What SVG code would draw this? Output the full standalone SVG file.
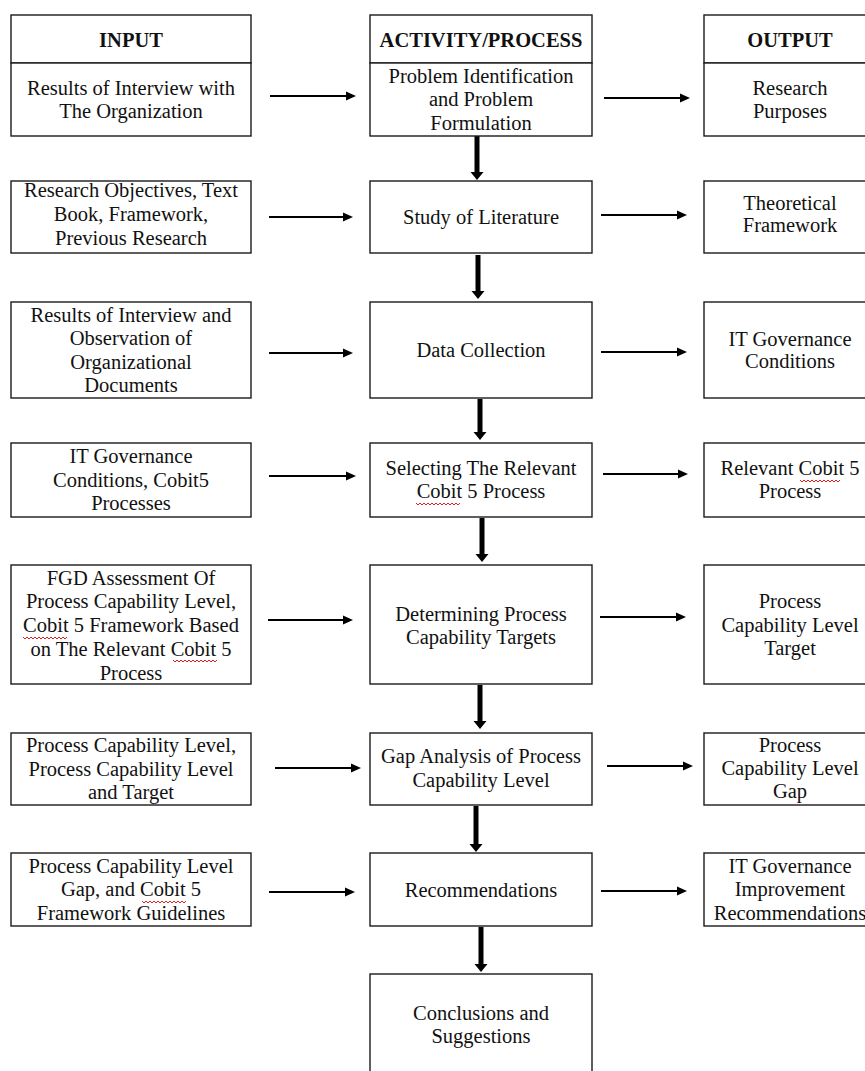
<svg xmlns="http://www.w3.org/2000/svg" width="865" height="1071" viewBox="0 0 865 1071">
<style>
  .box{fill:#fff;stroke:#1a1a1a;stroke-width:1.4}
  .t{font-family:"Liberation Serif","Times New Roman",serif;font-size:20.5px;fill:#111;text-anchor:middle}
  .h{font-weight:bold}
  .ha{stroke:#000;stroke-width:2.2;fill:none}
  .va{stroke:#000;stroke-width:5;fill:none}
  .sq{stroke:#e02020;stroke-width:1;fill:none}
</style>
<defs>
  <marker id="ah" markerUnits="userSpaceOnUse" markerWidth="11" markerHeight="10" refX="0" refY="5" orient="auto">
    <path d="M0,0.5 L10,5 L0,9.5 z" fill="#000"/>
  </marker>
  <marker id="av" markerUnits="userSpaceOnUse" markerWidth="9" markerHeight="14" refX="0" refY="7" orient="auto">
    <path d="M0,0.5 L8,7 L0,13.5 z" fill="#000"/>
  </marker>
</defs>
<rect width="865" height="1071" fill="#fff"/>

<g id="connectors">
  <line class="ha" x1="270" y1="96" x2="346" y2="96" marker-end="url(#ah)"/>
  <line class="ha" x1="604" y1="98" x2="680" y2="98" marker-end="url(#ah)"/>
  <line class="ha" x1="269" y1="217" x2="343" y2="217" marker-end="url(#ah)"/>
  <line class="ha" x1="601" y1="215" x2="677" y2="215" marker-end="url(#ah)"/>
  <line class="ha" x1="269" y1="353" x2="343" y2="353" marker-end="url(#ah)"/>
  <line class="ha" x1="601" y1="352" x2="677" y2="352" marker-end="url(#ah)"/>
  <line class="ha" x1="269" y1="476" x2="346" y2="476" marker-end="url(#ah)"/>
  <line class="ha" x1="603" y1="474" x2="678" y2="474" marker-end="url(#ah)"/>
  <line class="ha" x1="268" y1="620" x2="343" y2="620" marker-end="url(#ah)"/>
  <line class="ha" x1="600" y1="617" x2="676" y2="617" marker-end="url(#ah)"/>
  <line class="ha" x1="275" y1="768" x2="351" y2="768" marker-end="url(#ah)"/>
  <line class="ha" x1="607" y1="766" x2="683" y2="766" marker-end="url(#ah)"/>
  <line class="ha" x1="269" y1="892" x2="345" y2="892" marker-end="url(#ah)"/>
  <line class="ha" x1="601" y1="891" x2="677" y2="891" marker-end="url(#ah)"/>

  <line class="va" x1="477" y1="136" x2="477" y2="172" marker-end="url(#av)"/>
  <line class="va" x1="478" y1="255" x2="478" y2="291" marker-end="url(#av)"/>
  <line class="va" x1="480" y1="399" x2="480" y2="432" marker-end="url(#av)"/>
  <line class="va" x1="482" y1="518" x2="482" y2="554" marker-end="url(#av)"/>
  <line class="va" x1="480" y1="685" x2="480" y2="721" marker-end="url(#av)"/>
  <line class="va" x1="476" y1="806" x2="476" y2="844" marker-end="url(#av)"/>
  <line class="va" x1="481" y1="927" x2="481" y2="964" marker-end="url(#av)"/>
</g>

<g id="input-header">
  <rect class="box" x="11" y="15" width="240" height="48"/>
  <text class="t h" x="131" y="47">INPUT</text>
</g>
<g id="process-header">
  <rect class="box" x="370" y="15" width="222" height="48"/>
  <text class="t h" x="481" y="47">ACTIVITY/PROCESS</text>
</g>
<g id="output-header">
  <rect class="box" x="704" y="15" width="180" height="48"/>
  <text class="t h" x="790" y="47">OUTPUT</text>
</g>

<g id="in1">
  <rect class="box" x="11" y="63" width="240" height="73"/>
  <text class="t" x="131"><tspan x="131" y="95">Results of Interview with</tspan><tspan x="131" y="118">The Organization</tspan></text>
</g>
<g id="p1">
  <rect class="box" x="370" y="63" width="222" height="73"/>
  <text class="t" x="481"><tspan x="481" y="83">Problem Identification</tspan><tspan x="481" y="106">and Problem</tspan><tspan x="481" y="130">Formulation</tspan></text>
</g>
<g id="out1">
  <rect class="box" x="704" y="63" width="180" height="73"/>
  <text class="t" x="790"><tspan x="790" y="95">Research</tspan><tspan x="790" y="118">Purposes</tspan></text>
</g>

<g id="in2">
  <rect class="box" x="11" y="181" width="240" height="72"/>
  <text class="t" x="131"><tspan x="131" y="197">Research Objectives, Text</tspan><tspan x="131" y="221">Book, Framework,</tspan><tspan x="131" y="245">Previous Research</tspan></text>
</g>
<g id="p2">
  <rect class="box" x="370" y="181" width="222" height="72"/>
  <text class="t" x="481" y="224">Study of Literature</text>
</g>
<g id="out2">
  <rect class="box" x="704" y="181" width="180" height="72"/>
  <text class="t" x="790"><tspan x="790" y="210">Theoretical</tspan><tspan x="790" y="232">Framework</tspan></text>
</g>

<g id="in3">
  <rect class="box" x="11" y="302" width="240" height="96"/>
  <text class="t" x="131"><tspan x="131" y="322">Results of Interview and</tspan><tspan x="131" y="345">Observation of</tspan><tspan x="131" y="369">Organizational</tspan><tspan x="131" y="392">Documents</tspan></text>
</g>
<g id="p3">
  <rect class="box" x="370" y="302" width="222" height="96"/>
  <text class="t" x="481" y="357">Data Collection</text>
</g>
<g id="out3">
  <rect class="box" x="704" y="302" width="180" height="96"/>
  <text class="t" x="790"><tspan x="790" y="346">IT Governance</tspan><tspan x="790" y="368">Conditions</tspan></text>
</g>

<g id="in4">
  <rect class="box" x="11" y="443" width="240" height="74"/>
  <text class="t" x="131"><tspan x="131" y="463">IT Governance</tspan><tspan x="131" y="487">Conditions, Cobit5</tspan><tspan x="131" y="510">Processes</tspan></text>
</g>
<g id="p4">
  <rect class="box" x="370" y="443" width="222" height="74"/>
  <text class="t" x="481"><tspan x="481" y="475">Selecting The Relevant</tspan><tspan x="481" y="498">Cobit 5 Process</tspan></text>
  <path class="sq" d="M416,503 l2,2 l2,-2 l2,2 l2,-2 l2,2 l2,-2 l2,2 l2,-2 l2,2 l2,-2 l2,2 l2,-2 l2,2 l2,-2 l2,2 l2,-2 l2,2 l2,-2 l2,2 l2,-2 l2,2 l2,-2"/>
</g>
<g id="out4">
  <rect class="box" x="704" y="443" width="180" height="74"/>
  <text class="t" x="790"><tspan x="790" y="475">Relevant Cobit 5</tspan><tspan x="790" y="498">Process</tspan></text>
  <path class="sq" d="M800,480 l2,2 l2,-2 l2,2 l2,-2 l2,2 l2,-2 l2,2 l2,-2 l2,2 l2,-2 l2,2 l2,-2 l2,2 l2,-2 l2,2 l2,-2 l2,2 l2,-2 l2,2 l2,-2"/>
</g>

<g id="in5">
  <rect class="box" x="11" y="565" width="240" height="119"/>
  <text class="t" x="131"><tspan x="131" y="585">FGD Assessment Of</tspan><tspan x="131" y="608">Process Capability Level,</tspan><tspan x="131" y="632">Cobit 5 Framework Based</tspan><tspan x="131" y="656">on The Relevant Cobit 5</tspan><tspan x="131" y="680">Process</tspan></text>
  <path class="sq" d="M23,637 l2,2 l2,-2 l2,2 l2,-2 l2,2 l2,-2 l2,2 l2,-2 l2,2 l2,-2 l2,2 l2,-2 l2,2 l2,-2 l2,2 l2,-2 l2,2 l2,-2 l2,2 l2,-2 l2,2 l2,-2"/>
  <path class="sq" d="M173,660 l2,2 l2,-2 l2,2 l2,-2 l2,2 l2,-2 l2,2 l2,-2 l2,2 l2,-2 l2,2 l2,-2 l2,2 l2,-2 l2,2 l2,-2 l2,2 l2,-2 l2,2 l2,-2 l2,2 l2,-2"/>
</g>
<g id="p5">
  <rect class="box" x="370" y="565" width="222" height="119"/>
  <text class="t" x="481"><tspan x="481" y="621">Determining Process</tspan><tspan x="481" y="644">Capability Targets</tspan></text>
</g>
<g id="out5">
  <rect class="box" x="704" y="565" width="180" height="119"/>
  <text class="t" x="790"><tspan x="790" y="608">Process</tspan><tspan x="790" y="632">Capability Level</tspan><tspan x="790" y="655">Target</tspan></text>
</g>

<g id="in6">
  <rect class="box" x="11" y="733" width="240" height="72"/>
  <text class="t" x="131"><tspan x="131" y="752">Process Capability Level,</tspan><tspan x="131" y="776">Process Capability Level</tspan><tspan x="131" y="799">and Target</tspan></text>
</g>
<g id="p6">
  <rect class="box" x="370" y="733" width="222" height="72"/>
  <text class="t" x="481"><tspan x="481" y="763">Gap Analysis of Process</tspan><tspan x="481" y="787">Capability Level</tspan></text>
</g>
<g id="out6">
  <rect class="box" x="704" y="733" width="180" height="72"/>
  <text class="t" x="790"><tspan x="790" y="752">Process</tspan><tspan x="790" y="775">Capability Level</tspan><tspan x="790" y="798">Gap</tspan></text>
</g>

<g id="in7">
  <rect class="box" x="11" y="853" width="240" height="73"/>
  <text class="t" x="131"><tspan x="131" y="873">Process Capability Level</tspan><tspan x="131" y="896">Gap, and Cobit 5</tspan><tspan x="131" y="920">Framework Guidelines</tspan></text>
  <path class="sq" d="M142,901 l2,2 l2,-2 l2,2 l2,-2 l2,2 l2,-2 l2,2 l2,-2 l2,2 l2,-2 l2,2 l2,-2 l2,2 l2,-2 l2,2 l2,-2 l2,2 l2,-2 l2,2 l2,-2 l2,2 l2,-2"/>
</g>
<g id="p7">
  <rect class="box" x="370" y="853" width="222" height="73"/>
  <text class="t" x="481" y="897">Recommendations</text>
</g>
<g id="out7">
  <rect class="box" x="704" y="853" width="180" height="73"/>
  <text class="t" x="790"><tspan x="790" y="873">IT Governance</tspan><tspan x="790" y="896">Improvement</tspan><tspan x="790" y="920">Recommendations</tspan></text>
</g>

<g id="p8">
  <rect class="box" x="370" y="974" width="222" height="110"/>
  <text class="t" x="481"><tspan x="481" y="1020">Conclusions and</tspan><tspan x="481" y="1043">Suggestions</tspan></text>
</g>
</svg>
